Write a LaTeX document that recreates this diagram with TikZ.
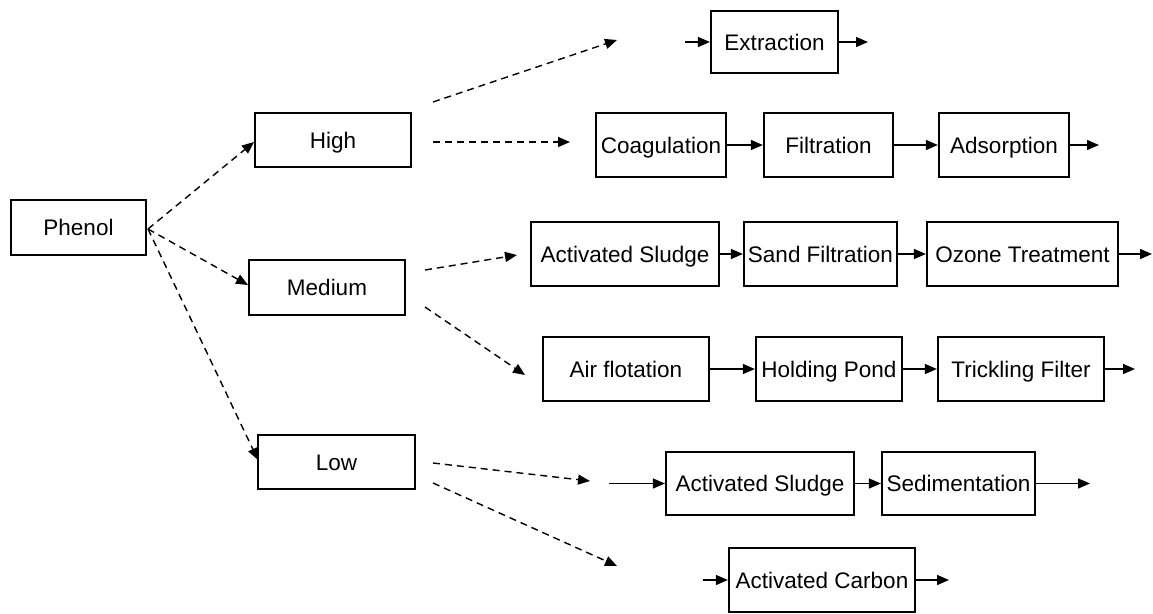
\documentclass[tikz,border=0pt]{standalone}
\usepackage{fontspec}
\setmainfont{Liberation Sans}
\usetikzlibrary{arrows.meta}
\begin{document}
\begin{tikzpicture}[x=1pt,y=-1pt,
  box/.style={draw, line width=2.2pt, inner sep=0pt, text height=16pt, text depth=0pt, font=\fontsize{22.5}{26}\selectfont},
  flow/.style={line width=1.4pt, -{Triangle[length=12pt,width=10pt]}},
  dflow/.style={line width=1.4pt, dash pattern=on 7pt off 5pt, -{Triangle[length=12pt,width=10pt]}}]
\useasboundingbox[fill=white] (0,0) rectangle (1153,613);
% nodes
\node[box, minimum width=135pt, minimum height=55pt] (phenol) at (78.5,227.5) {Phenol};
\node[box, minimum width=156pt, minimum height=54pt] (high) at (333,140) {High};
\node[box, minimum width=156pt, minimum height=55pt] (medium) at (327,287.5) {Medium};
\node[box, minimum width=157pt, minimum height=54pt] (low) at (336.5,462) {Low};
\node[box, minimum width=127pt, minimum height=62pt] (extraction) at (774.5,42) {Extraction};
\node[box, minimum width=130pt, minimum height=64pt] (coag) at (661,145) {Coagulation};
\node[box, minimum width=129pt, minimum height=64pt] (filt) at (828.5,145) {Filtration};
\node[box, minimum width=130pt, minimum height=64pt] (ads) at (1004,145) {Adsorption};
\node[box, minimum width=188pt, minimum height=64pt] (as1) at (625,254) {Activated Sludge};
\node[box, minimum width=153pt, minimum height=64pt] (sand) at (820.5,254) {Sand Filtration};
\node[box, minimum width=191pt, minimum height=64pt] (ozone) at (1022.5,254) {Ozone Treatment};
\node[box, minimum width=166pt, minimum height=64pt] (air) at (626,369) {Air flotation};
\node[box, minimum width=146pt, minimum height=64pt] (pond) at (829,369) {Holding Pond};
\node[box, minimum width=166pt, minimum height=64pt] (trick) at (1021,369) {Trickling Filter};
\node[box, minimum width=188pt, minimum height=63pt] (as2) at (760,483.5) {Activated Sludge};
\node[box, minimum width=153pt, minimum height=63pt] (sed) at (958.5,483.5) {Sedimentation};
\node[box, minimum width=186pt, minimum height=64pt] (carbon) at (822,580) {Activated Carbon};
% free ends
\coordinate (p0) at (148,229);
\coordinate (hightip) at (254,142);
\coordinate (medtip) at (248,285);
\coordinate (lowtip) at (258,460);
\coordinate (h1s) at (433,102); \coordinate (h1e) at (617,40);
\coordinate (h2s) at (433,142); \coordinate (h2e) at (570,142);
\coordinate (m1s) at (425,270); \coordinate (m1e) at (517,255);
\coordinate (m2s) at (425,307); \coordinate (m2e) at (525,375);
\coordinate (l1s) at (433,463); \coordinate (l1e) at (590,481);
\coordinate (l2s) at (433,483); \coordinate (l2e) at (617,566);
\coordinate (extin) at (685,42); \coordinate (extout) at (868,42);
\coordinate (adsout) at (1099,145);
\coordinate (ozout) at (1152,254);
\coordinate (trout) at (1135,369);
\coordinate (as2in) at (609,483.5);
\coordinate (sedout) at (1090,483.5);
\coordinate (cin) at (703,580); \coordinate (cout) at (949,580);
% dashed connectors
\draw[dflow] (p0) -- (hightip);
\draw[dflow] (p0) -- (medtip);
\draw[dflow] (p0) -- (lowtip);
\draw[dflow] (h1s) -- (h1e);
\draw[dflow] (h2s) -- (h2e);
\draw[dflow] (m1s) -- (m1e);
\draw[dflow] (m2s) -- (m2e);
\draw[dflow] (l1s) -- (l1e);
\draw[dflow] (l2s) -- (l2e);
% solid connectors
\draw[flow] (extin) -- (extraction.west);
\draw[flow] (extraction.east) -- (extout);
\draw[flow] (coag) -- (filt);
\draw[flow] (filt) -- (ads);
\draw[flow] (ads.east) -- (adsout);
\draw[flow] (as1) -- (sand);
\draw[flow] (sand) -- (ozone);
\draw[flow] (ozone.east) -- (ozout);
\draw[flow] (air) -- (pond);
\draw[flow] (pond) -- (trick);
\draw[flow] (trick.east) -- (trout);
\draw[flow] (as2in) -- (as2.west);
\draw[flow] (as2) -- (sed);
\draw[flow] (sed.east) -- (sedout);
\draw[flow] (cin) -- (carbon.west);
\draw[flow] (carbon.east) -- (cout);
\end{tikzpicture}
\end{document}
